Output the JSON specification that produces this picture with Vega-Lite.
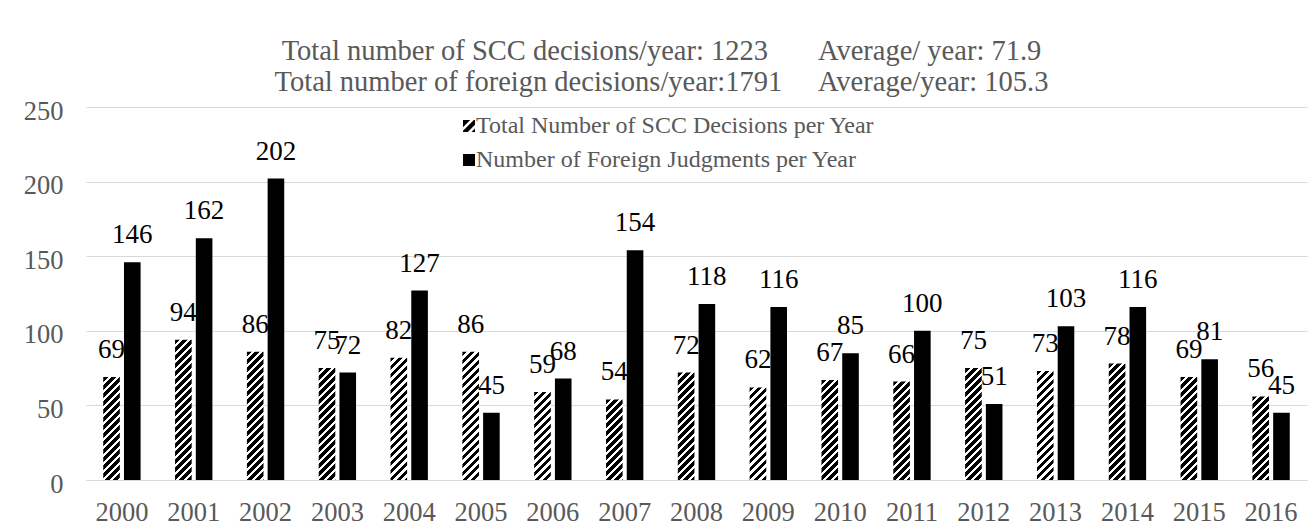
{
  "$schema": "https://vega.github.io/schema/vega-lite/v6.json",
  "width": 1221,
  "height": 373,
  "autosize": {"type": "none"},
  "padding": {"left": 86, "top": 107, "right": 8, "bottom": 47},
  "background": "white",
  "config": {"font": "Liberation Serif", "view": {"stroke": null}},
  "title": {
    "text": [
      "Total number of SCC decisions/year: 1223\u00a0\u00a0\u00a0\u00a0\u00a0\u00a0\u00a0Average/ year: 71.9",
      "Total number of foreign decisions/year:1791\u00a0\u00a0\u00a0\u00a0\u00a0Average/year: 105.3"
    ],
    "font": "Liberation Serif",
    "fontSize": 28.5,
    "fontWeight": "normal",
    "color": "#595959",
    "lineHeight": 31,
    "anchor": "middle",
    "baseline": "bottom",
    "offset": 13,
    "dx": -35,
    "dy": 40
  },
  "datasets": {
    "d": [
      {"year": "2000", "series": "Total Number of SCC Decisions per Year", "value": 69},
      {"year": "2000", "series": "Number of Foreign Judgments per Year", "value": 146},
      {"year": "2001", "series": "Total Number of SCC Decisions per Year", "value": 94},
      {"year": "2001", "series": "Number of Foreign Judgments per Year", "value": 162},
      {"year": "2002", "series": "Total Number of SCC Decisions per Year", "value": 86},
      {"year": "2002", "series": "Number of Foreign Judgments per Year", "value": 202},
      {"year": "2003", "series": "Total Number of SCC Decisions per Year", "value": 75},
      {"year": "2003", "series": "Number of Foreign Judgments per Year", "value": 72},
      {"year": "2004", "series": "Total Number of SCC Decisions per Year", "value": 82},
      {"year": "2004", "series": "Number of Foreign Judgments per Year", "value": 127},
      {"year": "2005", "series": "Total Number of SCC Decisions per Year", "value": 86},
      {"year": "2005", "series": "Number of Foreign Judgments per Year", "value": 45},
      {"year": "2006", "series": "Total Number of SCC Decisions per Year", "value": 59},
      {"year": "2006", "series": "Number of Foreign Judgments per Year", "value": 68},
      {"year": "2007", "series": "Total Number of SCC Decisions per Year", "value": 54},
      {"year": "2007", "series": "Number of Foreign Judgments per Year", "value": 154},
      {"year": "2008", "series": "Total Number of SCC Decisions per Year", "value": 72},
      {"year": "2008", "series": "Number of Foreign Judgments per Year", "value": 118},
      {"year": "2009", "series": "Total Number of SCC Decisions per Year", "value": 62},
      {"year": "2009", "series": "Number of Foreign Judgments per Year", "value": 116},
      {"year": "2010", "series": "Total Number of SCC Decisions per Year", "value": 67},
      {"year": "2010", "series": "Number of Foreign Judgments per Year", "value": 85},
      {"year": "2011", "series": "Total Number of SCC Decisions per Year", "value": 66},
      {"year": "2011", "series": "Number of Foreign Judgments per Year", "value": 100},
      {"year": "2012", "series": "Total Number of SCC Decisions per Year", "value": 75},
      {"year": "2012", "series": "Number of Foreign Judgments per Year", "value": 51},
      {"year": "2013", "series": "Total Number of SCC Decisions per Year", "value": 73},
      {"year": "2013", "series": "Number of Foreign Judgments per Year", "value": 103},
      {"year": "2014", "series": "Total Number of SCC Decisions per Year", "value": 78},
      {"year": "2014", "series": "Number of Foreign Judgments per Year", "value": 116},
      {"year": "2015", "series": "Total Number of SCC Decisions per Year", "value": 69},
      {"year": "2015", "series": "Number of Foreign Judgments per Year", "value": 81},
      {"year": "2016", "series": "Total Number of SCC Decisions per Year", "value": 56},
      {"year": "2016", "series": "Number of Foreign Judgments per Year", "value": 45}
    ]
  },
  "data": {"name": "d"},
  "encoding": {
    "x": {
      "field": "year",
      "type": "nominal",
      "scale": {"paddingInner": 0.48, "paddingOuter": 0.24},
      "axis": {
        "title": null,
        "labelAngle": 0,
        "labelFont": "Liberation Serif",
        "labelFontSize": 26.5,
        "labelColor": "#595959",
        "ticks": false,
        "domainColor": "#d9d9d9",
        "domainWidth": 1,
        "labelPadding": 19
      }
    },
    "xOffset": {
      "field": "series",
      "type": "nominal",
      "scale": {"domain": ["Total Number of SCC Decisions per Year", "Number of Foreign Judgments per Year"], "paddingInner": 0.2}
    },
    "y": {
      "field": "value",
      "type": "quantitative",
      "scale": {"domain": [0, 250]},
      "axis": {
        "title": null,
        "values": [0, 50, 100, 150, 200, 250],
        "grid": true,
        "gridColor": "#d9d9d9",
        "gridWidth": 1,
        "domain": false,
        "ticks": false,
        "labelPadding": 23,
        "labelFont": "Liberation Serif",
        "labelFontSize": 26.5,
        "labelColor": "#595959",
        "labelOffset": 4
      }
    }
  },
  "layer": [
    {
      "mark": {"type": "bar"},
      "encoding": {
        "fill": {
          "condition": {"test": "datum.series === 'Total Number of SCC Decisions per Year'", "value": "white"},
          "value": "black"
        }
      }
    },
    {
      "transform": [{"filter": "datum.series === 'Total Number of SCC Decisions per Year'"}],
      "mark": {
        "type": "bar",
        "fill": {"expr": "{gradient:'linear',x1:0,y1:0,x2:160*bandwidth('xOffset')/(pow(bandwidth('xOffset'),2)+pow(scale('y',0)-scale('y',datum.value),2)),y2:160*(scale('y',0)-scale('y',datum.value))/(pow(bandwidth('xOffset'),2)+pow(scale('y',0)-scale('y',datum.value),2)),stops:[{offset:0,color:'#000'},{offset:0.03,color:'#000'},{offset:0.03,color:'#fff'},{offset:0.05,color:'#fff'},{offset:0.05,color:'#000'},{offset:0.08,color:'#000'},{offset:0.08,color:'#fff'},{offset:0.1,color:'#fff'},{offset:0.1,color:'#000'},{offset:0.13,color:'#000'},{offset:0.13,color:'#fff'},{offset:0.15,color:'#fff'},{offset:0.15,color:'#000'},{offset:0.18,color:'#000'},{offset:0.18,color:'#fff'},{offset:0.2,color:'#fff'},{offset:0.2,color:'#000'},{offset:0.23,color:'#000'},{offset:0.23,color:'#fff'},{offset:0.25,color:'#fff'},{offset:0.25,color:'#000'},{offset:0.28,color:'#000'},{offset:0.28,color:'#fff'},{offset:0.3,color:'#fff'},{offset:0.3,color:'#000'},{offset:0.33,color:'#000'},{offset:0.33,color:'#fff'},{offset:0.35,color:'#fff'},{offset:0.35,color:'#000'},{offset:0.38,color:'#000'},{offset:0.38,color:'#fff'},{offset:0.4,color:'#fff'},{offset:0.4,color:'#000'},{offset:0.43,color:'#000'},{offset:0.43,color:'#fff'},{offset:0.45,color:'#fff'},{offset:0.45,color:'#000'},{offset:0.48,color:'#000'},{offset:0.48,color:'#fff'},{offset:0.5,color:'#fff'},{offset:0.5,color:'#000'},{offset:0.53,color:'#000'},{offset:0.53,color:'#fff'},{offset:0.55,color:'#fff'},{offset:0.55,color:'#000'},{offset:0.58,color:'#000'},{offset:0.58,color:'#fff'},{offset:0.6,color:'#fff'},{offset:0.6,color:'#000'},{offset:0.63,color:'#000'},{offset:0.63,color:'#fff'},{offset:0.65,color:'#fff'},{offset:0.65,color:'#000'},{offset:0.68,color:'#000'},{offset:0.68,color:'#fff'},{offset:0.7,color:'#fff'},{offset:0.7,color:'#000'},{offset:0.73,color:'#000'},{offset:0.73,color:'#fff'},{offset:0.75,color:'#fff'},{offset:0.75,color:'#000'},{offset:0.78,color:'#000'},{offset:0.78,color:'#fff'},{offset:0.8,color:'#fff'},{offset:0.8,color:'#000'},{offset:0.83,color:'#000'},{offset:0.83,color:'#fff'},{offset:0.85,color:'#fff'},{offset:0.85,color:'#000'},{offset:0.88,color:'#000'},{offset:0.88,color:'#fff'},{offset:0.9,color:'#fff'},{offset:0.9,color:'#000'},{offset:0.93,color:'#000'},{offset:0.93,color:'#fff'},{offset:0.95,color:'#fff'},{offset:0.95,color:'#000'},{offset:0.98,color:'#000'},{offset:0.98,color:'#fff'},{offset:1,color:'#fff'}]}"}
      }
    },
    {
      "mark": {"type": "text", "baseline": "alphabetic", "dy": -19, "font": "Liberation Serif", "fontSize": 27, "fill": "black"},
      "encoding": {"text": {"field": "value", "type": "quantitative"}}
    },
    {
      "transform": [{"filter": "false"}],
      "mark": {"type": "point", "filled": true, "fill": "black", "size": 144, "strokeWidth": 0},
      "encoding": {
        "shape": {
          "field": "series",
          "type": "nominal",
          "scale": {
            "domain": ["Total Number of SCC Decisions per Year", "Number of Foreign Judgments per Year"],
            "range": ["M-1,-1L0.2,-1L-1,0.2ZM-1,0.8L0.8,-1L1,-1L1,-0.2L-0.2,1L-1,1ZM1,0.4L1,1L0.4,1Z", "square"]
          },
          "legend": {
            "orient": "none",
            "legendX": 371,
            "legendY": 7,
            "title": null,
            "padding": 0,
            "labelFont": "Liberation Serif",
            "labelFontSize": 24,
            "labelColor": "#595959",
            "labelOffset": -5,
            "labelLimit": 700,
            "rowPadding": 10,
            "symbolSize": 144,
            "symbolFillColor": "black",
            "symbolStrokeWidth": 0,
            "symbolOpacity": 1
          }
        }
      }
    }
  ]
}
